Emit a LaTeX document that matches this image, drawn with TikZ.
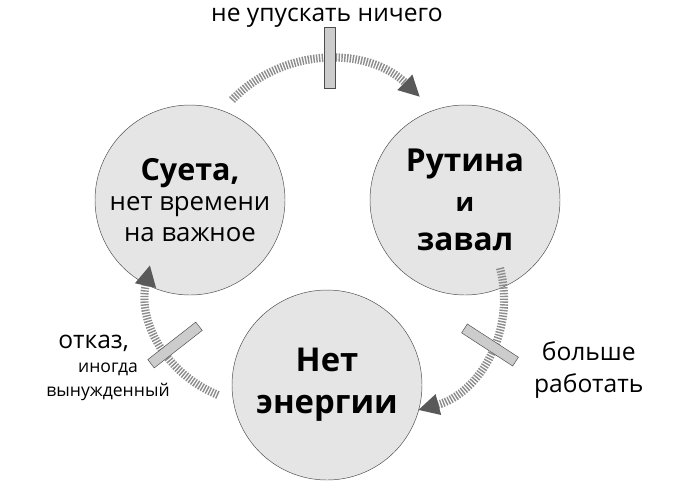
\documentclass[tikz,border=0pt]{standalone}
\usepackage{fontspec}
\setmainfont{Open Sans}
\usetikzlibrary{arrows.meta}
\begin{document}
\begin{tikzpicture}[%
 x=0.03cm, y=-0.03cm,
 state/.style={
 	circle,
 	draw=black!70,
 	thin,
 	fill=black!10,
 	minimum size=190*0.03cm,
 	align=center,
 	inner sep=0pt
 },
 flow/.style={
 	draw=black!45,
 	line width=7pt,
 	dash pattern=on 1.2pt off 1.2pt,
 	-{Triangle[length=18pt,width=17pt,color=black!65]}
 },
 stopper/.style={
 	rectangle,
 	draw=black!70,
 	fill=black!20,
 	minimum width=9pt,
 	minimum height=52pt,
 	inner sep=0pt
 },
 lbl/.style={
 	font=\fontsize{21}{27}\selectfont,
 	align=center
 }
 ]
\useasboundingbox (0,0) rectangle (680,491);
\node[state, font=\fontsize{22}{26}\selectfont] (S) at (190,200) {{\fontsize{26}{30}\selectfont\bfseries Суета,}\\нет времени\\на важное};
\node[state, font=\fontsize{27}{34}\selectfont] (R) at (465,200) {\bfseries Рутина\\{\fontsize{22}{26}\selectfont\bfseries и}\\\bfseries завал};
\node[state, font=\fontsize{28}{36}\selectfont] (E) at (327,385) {\bfseries Нет\\\bfseries энергии};

\coordinate (s1) at (232,100);
\coordinate (r1) at (420,97);
\coordinate (r2) at (500,268);
\coordinate (e1) at (418,410);
\coordinate (e2) at (218,395);
\coordinate (s2) at (150,265);

\draw[flow] (s1) to[bend left=45] (r1);
\draw[flow] (r2) to[bend left=45] (e1);
\draw[flow] (e2) to[bend left=40] (s2);

\node[stopper] (b1) at (330,58) {};
\node[stopper, rotate=57] (b2) at (490,345) {};
\node[stopper, rotate=-52] (b3) at (175,345) {};

\node[lbl] (t1) at (327,18) {не упускать ничего};
\node[lbl, anchor=west] (t2) at (530,370) {больше\\работать};
\node[lbl, anchor=east] (t3) at (133,343) {отказ,};
\node[font=\fontsize{15}{21}\selectfont, align=center] (t4) at (108,382) {иногда\\вынужденный};
\end{tikzpicture}
\end{document}
